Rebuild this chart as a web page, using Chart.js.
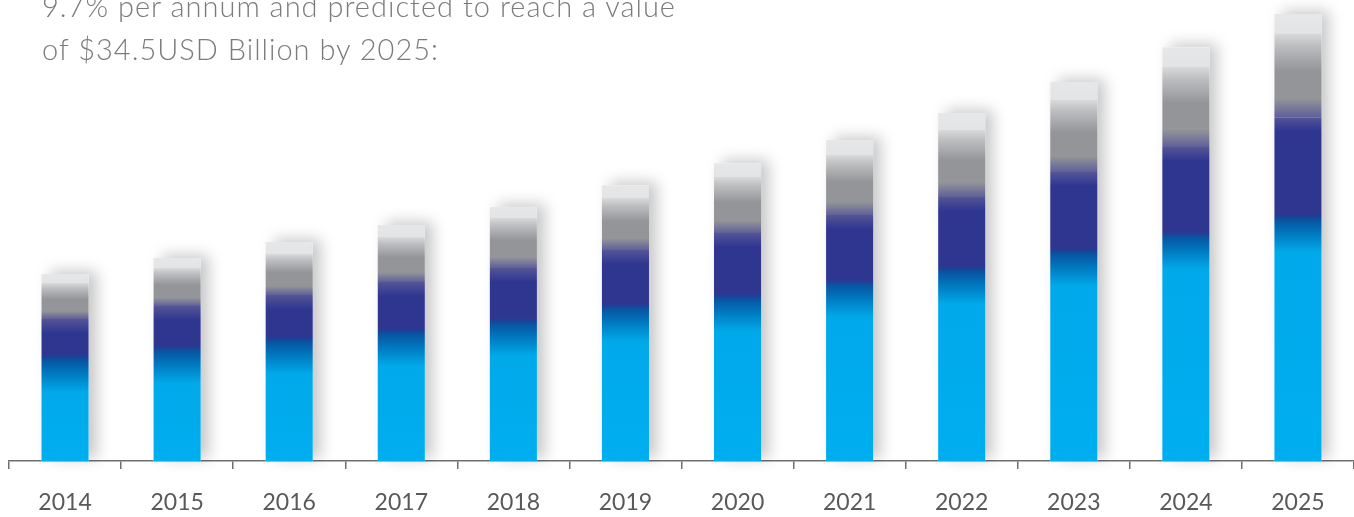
<!DOCTYPE html>
<html>
<head>
<meta charset="utf-8">
<script src="https://cdn.jsdelivr.net/npm/chart.js@4"></script>
<style>
  body { margin: 0; background: #fff; }
  #wrap { position: relative; width: 1354px; height: 517px; overflow: hidden; }
  #intro {
    position: absolute; left: 42px; top: -16px;
    font-family: Lato, sans-serif; font-weight: 300; font-size: 29px;
    letter-spacing: 1px; line-height: 43px; color: #7a7b7e; white-space: nowrap;
  }
</style>
</head>
<body>
<div id="wrap">
  <canvas id="marketChart" width="1354" height="517"></canvas>
  <div id="intro">9.7% per annum and predicted to reach a value<br>of $34.5USD Billion by 2025:</div>
</div>
<script>
// values in USD billion
var years = [ "2014", "2015", "2016", "2017", "2018", "2019", "2020", "2021", "2022", "2023", "2024", "2025" ];
var segCyan = [ 7.95, 8.64, 9.34, 9.95, 10.73, 11.88, 12.65, 13.73, 14.74, 16.13, 17.44, 18.75 ];
var segNavy = [ 3.01, 3.32, 3.47, 3.86, 4.17, 4.40, 4.94, 5.25, 5.63, 6.17, 6.79, 7.79 ];
var segGray = [ 2.78, 2.93, 3.16, 3.47, 3.86, 4.01, 4.32, 4.63, 5.17, 5.56, 6.17, 6.48 ];
var segCap = [ 0.69, 0.77, 0.93, 0.93, 0.85, 1.00, 1.08, 1.16, 1.31, 1.39, 1.54, 1.47 ];

var segments = [ segCyan, segNavy, segGray, segCap ];
var flatColors = [ '#00AEEF', '#2E3690', '#939598', '#E6E7E8' ];

function clamp( v ) { return Math.max( 0, Math.min( 1, v ) ); }

// vertical gradient over one stacked segment
function segFill( dsIndex )
{
        return function ( ctx )
        {
                var chart = ctx.chart;
                var y = chart.scales.y;
                if ( ctx.type !== 'data' || !y ) return flatColors[ dsIndex ];
                var i = ctx.dataIndex;
                var base = 0;
                for ( var k = 0; k < dsIndex; k++ ) base += segments[ k ][ i ];
                var yb = y.getPixelForValue( base );
                var yt = y.getPixelForValue( base + segments[ dsIndex ][ i ] );
                if ( !isFinite( yb ) || !isFinite( yt ) ) return flatColors[ dsIndex ];
                var h = Math.max( 1, yb - yt );
                var g = chart.ctx.createLinearGradient( 0, yb, 0, yt );
                if ( dsIndex === 0 ) {
                        g.addColorStop( 0, '#00AEEF' );
                        g.addColorStop( clamp( 1 - 34/h ), '#00A9EA' );
                        g.addColorStop( clamp( 1 - 14/h ), '#0075BC' );
                        g.addColorStop( 1, '#0B4E9D' );
                } else if ( dsIndex === 1 ) {
                        g.addColorStop( 0, '#1F4196' );
                        g.addColorStop( clamp( 5/h ), '#2E3690' );
                        g.addColorStop( clamp( 1 - 14/h ), '#2E3690' );
                        g.addColorStop( 1, '#555596' );
                } else if ( dsIndex === 2 ) {
                        g.addColorStop( 0, '#5F5F99' );
                        g.addColorStop( 0.22, '#939598' );
                        g.addColorStop( 0.55, '#939598' );
                        g.addColorStop( 0.85, '#BDBEC0' );
                        g.addColorStop( 1, '#D9DADB' );
                } else {
                        g.addColorStop( 0, '#E3E4E5' );
                        g.addColorStop( 1, '#E6E7E8' );
                }
                return g;
        };
}

// soft shadow behind each full stack
var stackShadow = {
        id: 'stackShadow',
        beforeDatasetsDraw: function ( chart )
        {
                var c = chart.ctx;
                var bottom = chart.getDatasetMeta( 0 ).data;
                var top = chart.getDatasetMeta( segments.length - 1 ).data;
                c.save();
                c.shadowColor = 'rgba(0,0,0,0.22)';
                c.shadowBlur = 14;
                c.shadowOffsetX = 8;
                c.shadowOffsetY = -3;
                c.fillStyle = '#fff';
                for ( var i = 0; i < top.length; i++ ) {
                        var t = top[ i ], b = bottom[ i ];
                        c.fillRect( t.x - t.width/2, t.y, t.width, b.base - t.y );
                }
                c.restore();
        }
};

var ctxB=document.getElementById( "marketChart" ).getContext( '2d' );
var marketChart=new Chart( ctxB, {
        type: 'bar',
        plugins: [ stackShadow ],
        data: {
                labels: years,
                datasets: segments.map( function ( arr, k )
                {
                        return {
                                data: arr,
                                backgroundColor: segFill( k ),
                                borderWidth: 0,
                                barPercentage: 0.42,
                                categoryPercentage: 1
                        };
                } )
        },
        options: {
                responsive: false,
                animation: false,
                layout: { padding: { left: 9, right: 0, top: 0, bottom: 0 } },
                plugins: {
                        legend: { display: false },
                        tooltip: { enabled: false }
                },
                scales: {
                        x: {
                                stacked: true,
                                afterFit: function ( scale ) { scale.height = 56; },
                                border: { color: '#6d6e71', width: 1.5 },
                                grid: { drawOnChartArea: false, drawTicks: true, tickLength: 8, color: '#6d6e71', lineWidth: 1.5 },
                                ticks: {
                                        color: '#58595b',
                                        padding: 20,
                                        font: { family: 'Lato', size: 23 }
                                }
                        },
                        y: {
                                stacked: true,
                                display: false,
                                min: 0,
                                max: 35.58
                        }
                }
        }
} );
</script>
</body>
</html>
